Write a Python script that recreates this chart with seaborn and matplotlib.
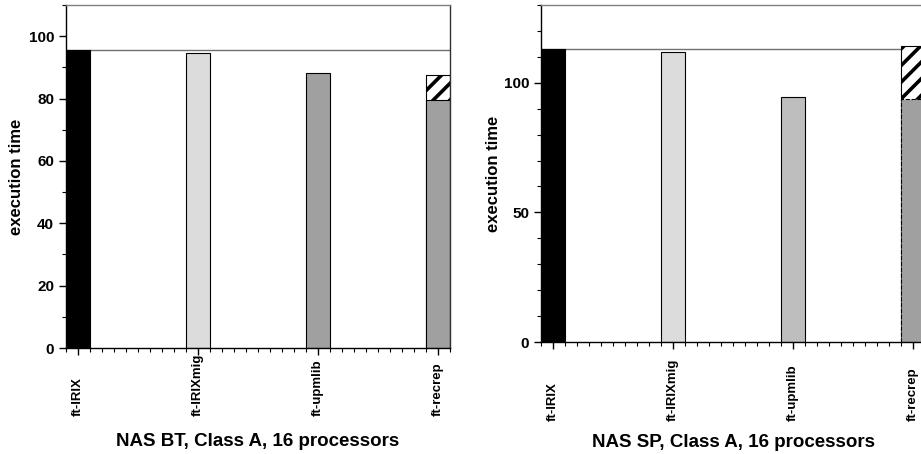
import matplotlib
matplotlib.use("Agg")
import matplotlib.pyplot as plt
from matplotlib.ticker import MultipleLocator
import seaborn as sns
import pandas as pd

sns.set_style("white")
plt.rcParams['font.family'] = ['Liberation Sans', 'DejaVu Sans']
plt.rcParams['font.weight'] = 'bold'
plt.rcParams['hatch.linewidth'] = 2.6
for k in ['text.color', 'axes.labelcolor', 'xtick.color', 'ytick.color']:
    plt.rcParams[k] = 'black'

categories = ['ft-IRIX', 'ft-IRIXmig', 'ft-upmlib', 'ft-recrep']

# NAS BT
bt_base = [95.7, 94.6, 88.2, 79.6]
bt_total = [95.7, 94.6, 88.2, 87.5]
bt_colors = ['#000000', '#dcdcdc', '#a0a0a0', '#a0a0a0']

# NAS SP
sp_base = [113.2, 111.9, 94.6, 93.9]
sp_total = [113.2, 111.9, 94.6, 114.2]
sp_colors = ['#000000', '#dcdcdc', '#bebebe', '#a0a0a0']

titles = ['NAS BT, Class A, 16 processors', 'NAS SP, Class A, 16 processors']
ylims = [110, 130]
ymajor = [20, 50]

fig = plt.figure(figsize=(9.21, 4.54), dpi=100)
ax1 = fig.add_axes([66 / 921, 1 - 348 / 454, 384 / 921, 343 / 454])
ax2 = fig.add_axes([541 / 921, 1 - 342 / 454, 384 / 921, 337 / 454])

# per-panel layout tweaks
xlab_pad = [44, 52]       # points, tick labels bottom aligned
xtitle_y = [-0.274, -0.297]
ytitle_x = [-0.128, -0.125]

panels = [(ax1, bt_base, bt_total, bt_colors), (ax2, sp_base, sp_total, sp_colors)]
for i, (ax, base, total, colors) in enumerate(panels):
    top = [t - b for t, b in zip(total, base)]
    df = pd.DataFrame({'cat': categories, 'base': base, 'top': top, 'total': total})
    # hatched overhead drawn as full height, base bars drawn over it
    sns.barplot(data=df, x='cat', y='total', ax=ax, width=0.2, color='white',
                edgecolor='black', linewidth=0.8, hatch='//', saturation=1)
    for p, t in zip(ax.patches, top):
        if t <= 0:
            p.set_visible(False)
    sns.barplot(data=df, x='cat', y='base', hue='cat', palette=colors, ax=ax,
                width=0.2, edgecolor='black', linewidth=0.8, legend=False,
                saturation=1, dodge=False)
    if i == 1:
        ax.patches[-1].set_linestyle('--')
    ax.axhline(total[0], color='#707070', lw=1, zorder=0.5)
    ax.set_xlim(-0.1, 3.1)
    ax.set_ylim(0, ylims[i])
    ax.yaxis.set_major_locator(MultipleLocator(ymajor[i]))
    ax.yaxis.set_minor_locator(MultipleLocator(10))
    ax.xaxis.set_minor_locator(MultipleLocator(0.1))
    ax.tick_params(axis='both', which='major', direction='out', length=5,
                   width=1, labelsize=11, bottom=True, left=True, color='black')
    ax.tick_params(axis='both', which='minor', direction='out', length=3,
                   width=0.8, bottom=True, left=True, color='black')
    ax.tick_params(axis='x', which='major', labelrotation=90, labelsize=9.5,
                   pad=xlab_pad[i])
    for lab in ax.get_xticklabels():
        lab.set_fontweight('bold')
        lab.set_va('bottom')
    for lab in ax.get_yticklabels():
        lab.set_fontweight('bold')
    ax.set_ylabel('execution time', fontsize=12, fontweight='bold', va='center')
    ax.yaxis.set_label_coords(ytitle_x[i], 0.5)
    ax.set_xlabel(titles[i], fontsize=13.5, fontweight='bold', va='center')
    ax.xaxis.set_label_coords(0.5, xtitle_y[i])
    ax.spines['left'].set_color('black')
    ax.spines['bottom'].set_color('black')
    ax.spines['top'].set_color('#808080')
    ax.spines['right'].set_color('#303030')
    for s in ax.spines.values():
        s.set_linewidth(1)

fig.savefig('out.png', dpi=100)
